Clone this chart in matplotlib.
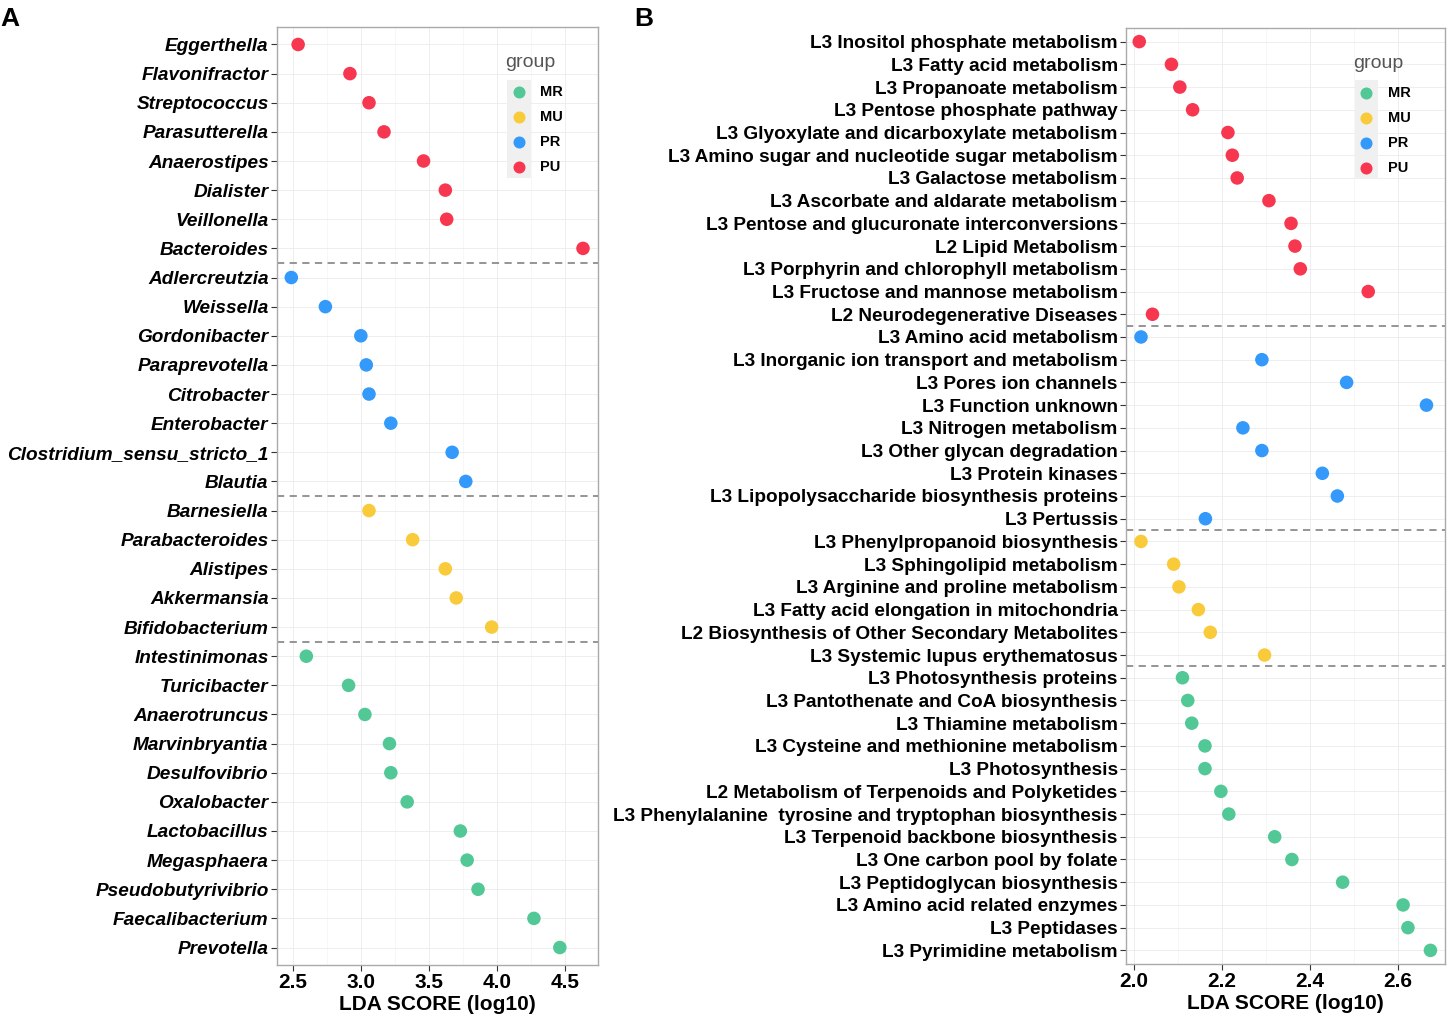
import matplotlib

matplotlib.use("Agg")
import matplotlib.pyplot as plt
from matplotlib.patches import Rectangle

plt.rcParams["font.family"] = ["Liberation Sans", "DejaVu Sans"]

GROUPS = ["MR", "MU", "PR", "PU"]
COLORS = {"MR": "#52C896", "MU": "#F9CB3A", "PR": "#3399FA", "PU": "#F6374F"}

# panel A: genera, top to bottom
taxa_pu = ["Eggerthella", "Flavonifractor", "Streptococcus", "Parasutterella",
           "Anaerostipes", "Dialister", "Veillonella", "Bacteroides"]
lda_pu = [2.54, 2.92, 3.06, 3.17, 3.46, 3.62, 3.63, 4.63]
taxa_pr = ["Adlercreutzia", "Weissella", "Gordonibacter", "Paraprevotella",
           "Citrobacter", "Enterobacter", "Clostridium_sensu_stricto_1", "Blautia"]
lda_pr = [2.49, 2.74, 3.00, 3.04, 3.06, 3.22, 3.67, 3.77]
taxa_mu = ["Barnesiella", "Parabacteroides", "Alistipes", "Akkermansia", "Bifidobacterium"]
lda_mu = [3.06, 3.38, 3.62, 3.70, 3.96]
taxa_mr = ["Intestinimonas", "Turicibacter", "Anaerotruncus", "Marvinbryantia",
           "Desulfovibrio", "Oxalobacter", "Lactobacillus", "Megasphaera",
           "Pseudobutyrivibrio", "Faecalibacterium", "Prevotella"]
lda_mr = [2.60, 2.91, 3.03, 3.21, 3.22, 3.34, 3.73, 3.78, 3.86, 4.27, 4.46]

# panel B: pathways, top to bottom
path_pu = ["L3 Inositol phosphate metabolism", "L3 Fatty acid metabolism",
           "L3 Propanoate metabolism", "L3 Pentose phosphate pathway",
           "L3 Glyoxylate and dicarboxylate metabolism",
           "L3 Amino sugar and nucleotide sugar metabolism", "L3 Galactose metabolism",
           "L3 Ascorbate and aldarate metabolism",
           "L3 Pentose and glucuronate interconversions", "L2 Lipid Metabolism",
           "L3 Porphyrin and chlorophyll metabolism", "L3 Fructose and mannose metabolism",
           "L2 Neurodegenerative Diseases"]
plda_pu = [2.013, 2.086, 2.105, 2.134, 2.214, 2.224, 2.235, 2.307, 2.357, 2.366,
           2.378, 2.532, 2.043]
path_pr = ["L3 Amino acid metabolism", "L3 Inorganic ion transport and metabolism",
           "L3 Pores ion channels", "L3 Function unknown", "L3 Nitrogen metabolism",
           "L3 Other glycan degradation", "L3 Protein kinases",
           "L3 Lipopolysaccharide biosynthesis proteins", "L3 Pertussis"]
plda_pr = [2.017, 2.291, 2.483, 2.664, 2.248, 2.291, 2.428, 2.462, 2.163]
path_mu = ["L3 Phenylpropanoid biosynthesis", "L3 Sphingolipid metabolism",
           "L3 Arginine and proline metabolism",
           "L3 Fatty acid elongation in mitochondria",
           "L2 Biosynthesis of Other Secondary Metabolites",
           "L3 Systemic lupus erythematosus"]
plda_mu = [2.017, 2.091, 2.103, 2.147, 2.174, 2.297]
path_mr = ["L3 Photosynthesis proteins", "L3 Pantothenate and CoA biosynthesis",
           "L3 Thiamine metabolism", "L3 Cysteine and methionine metabolism",
           "L3 Photosynthesis", "L2 Metabolism of Terpenoids and Polyketides",
           "L3 Phenylalanine  tyrosine and tryptophan biosynthesis",
           "L3 Terpenoid backbone biosynthesis", "L3 One carbon pool by folate",
           "L3 Peptidoglycan biosynthesis", "L3 Amino acid related enzymes",
           "L3 Peptidases", "L3 Pyrimidine metabolism"]
plda_mr = [2.111, 2.123, 2.132, 2.162, 2.162, 2.198, 2.216, 2.320, 2.359, 2.474,
           2.611, 2.622, 2.673]


def draw_panel(ax, blocks, xlim, xticks, minor, italic):
    labels, values, groups = [], [], []
    bounds = []
    for g, names, vals in blocks:
        labels += names
        values += vals
        groups += [g] * len(names)
        bounds.append(len(labels))
    n = len(labels)
    ypos = list(range(n))

    for x in xticks:
        ax.axvline(x, color="#EBEBEB", lw=0.6, zorder=0)
    for x in minor:
        ax.axvline(x, color="#F4F4F4", lw=0.5, zorder=0)
    for y in ypos:
        ax.axhline(y, color="#EBEBEB", lw=0.6, zorder=0)
    for b in bounds[:-1]:
        ax.axhline(b - 0.5, color="#8C8C8C", lw=1.3, ls=(0, (4, 3)), zorder=1)

    ax.scatter(values, ypos, c=[COLORS[g] for g in groups], s=95, lw=0, zorder=3)

    ax.set_xlim(*xlim)
    ax.set_ylim(n - 0.4, -0.6)
    ax.set_xticks(xticks, [f"{x:.1f}" for x in xticks], fontsize=15, fontweight="bold")
    ax.set_yticks(ypos, labels, fontsize=13.7, fontweight="bold",
                  fontstyle="italic" if italic else "normal")
    ax.tick_params(axis="both", length=4, width=0.8, color="#333333", pad=2)
    ax.set_xlabel("LDA SCORE (log10)", fontsize=15, fontweight="bold", labelpad=2)
    for sp in ax.spines.values():
        sp.set_color("#AAAAAA")
        sp.set_linewidth(1.0)

    # legend in ggplot style
    ax.text(0.711, 0.962, "group", transform=ax.transAxes, fontsize=14,
            color="#555555", va="center", ha="left")
    ax.add_patch(Rectangle((0.717, 0.839), 0.073, 0.105, transform=ax.transAxes,
                           facecolor="#F0F0F0", edgecolor="none", zorder=2))
    for k, g in enumerate(GROUPS):
        yy = 0.931 - k * 0.0267
        ax.scatter([0.7535], [yy], transform=ax.transAxes, s=75, lw=0,
                   color=COLORS[g], zorder=4, clip_on=False)
        ax.text(0.82, yy, g, transform=ax.transAxes, fontsize=10.5,
                fontweight="bold", va="center", ha="left")


fig = plt.figure(figsize=(14.47, 10.16), dpi=100)
axA = fig.add_axes([277 / 1447, 51 / 1016, 321 / 1447, 938 / 1016])
axB = fig.add_axes([1126 / 1447, 52 / 1016, 319 / 1447, 936 / 1016])

draw_panel(axA,
           [("PU", taxa_pu, lda_pu), ("PR", taxa_pr, lda_pr),
            ("MU", taxa_mu, lda_mu), ("MR", taxa_mr, lda_mr)],
           (2.385, 4.74), [2.5, 3.0, 3.5, 4.0, 4.5], [2.75, 3.25, 3.75, 4.25],
           italic=True)
draw_panel(axB,
           [("PU", path_pu, plda_pu), ("PR", path_pr, plda_pr),
            ("MU", path_mu, plda_mu), ("MR", path_mr, plda_mr)],
           (1.983, 2.706), [2.0, 2.2, 2.4, 2.6], [2.1, 2.3, 2.5],
           italic=False)

fig.text(0.0, 0.993, "A", fontsize=19, fontweight="bold", va="top", ha="left")
fig.text(634 / 1447, 0.993, "B", fontsize=19, fontweight="bold", va="top", ha="left")

fig.savefig("out.png", dpi=100)
